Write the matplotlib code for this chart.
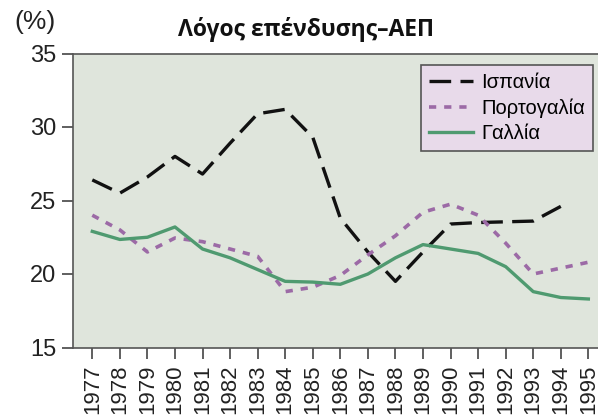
import matplotlib
matplotlib.use('Agg')
import matplotlib.pyplot as plt

plt.rcParams['font.family'] = ['Liberation Sans', 'DejaVu Sans']

years = list(range(1977, 1996))
spain = [26.4, 25.5, 26.6, 28.0, 26.8, 28.9, 30.9, 31.2, 29.3, 23.8, 21.5,
         19.5, 21.5, 23.4, 23.5, 23.55, 23.6, 24.6, None]
portugal = [24.0, 23.0, 21.5, 22.45, 22.2, 21.7, 21.2, 18.8, 19.1, 19.9, 21.3,
            22.6, 24.2, 24.75, 24.0, 22.1, 20.0, 20.4, 20.8]
france = [22.9, 22.35, 22.5, 23.2, 21.7, 21.1, 20.3, 19.5, 19.45, 19.3, 20.0,
          21.1, 22.0, 21.7, 21.4, 20.5, 18.8, 18.4, 18.3]
labels = ['Ισπανία', 'Πορτογαλία', 'Γαλλία']

W, H = 598, 418
fig = plt.figure(figsize=(W / 100, H / 100), dpi=100)
ax = fig.add_axes([73 / W, (H - 347.5) / H, 1 - 73 / W, 294 / H])
ax.set_facecolor('#dfe5dc')

sp_x = [y for y, v in zip(years, spain) if v is not None]
sp_y = [v for v in spain if v is not None]
ax.plot(sp_x, sp_y, color='#111111', lw=2.4, dashes=(6.5, 2.8), label=labels[0])
ax.plot(years, portugal, color='#9c6aa6', lw=2.6, dashes=(2, 2.2), label=labels[1])
ax.plot(years, france, color='#4f9a70', lw=2.4, label=labels[2])

ax.set_xlim(1976.3, 1995.35)
ax.set_ylim(15, 35)
ax.set_yticks([15, 20, 25, 30, 35])
ax.set_xticks(years)
ax.set_xticklabels([str(y) for y in years], rotation=90, va='top')
ax.tick_params(axis='both', color='#444444', length=8, width=1.2,
               labelcolor='#222222')
ax.tick_params(axis='y', labelsize=17, pad=4)
ax.tick_params(axis='x', labelsize=16, pad=4)
for s in ['left', 'bottom', 'top']:
    ax.spines[s].set_color('#555555')
    ax.spines[s].set_linewidth(1.2)
ax.spines['right'].set_visible(False)

leg = ax.legend(loc='upper right', bbox_to_anchor=(593 / W, 1 - 65 / H),
                bbox_transform=fig.transFigure, fontsize=14.5,
                frameon=True, fancybox=False, handlelength=2.2, handletextpad=0.4,
                borderpad=0.4, labelspacing=0.3, borderaxespad=0)
leg.get_frame().set_facecolor('#e8daea')
leg.get_frame().set_edgecolor('#555555')
leg.get_frame().set_linewidth(1.2)
leg.get_frame().set_alpha(1)

fig.text(178 / W, 1 - 30 / H, 'Λόγος επένδυσης–ΑΕΠ', ha='left', va='center',
         fontsize=16.5, fontweight='bold', color='#111111',
         family=['Open Sans', 'DejaVu Sans'])
fig.text(14 / W, 1 - 22 / H, '(%)', ha='left', va='center', fontsize=19,
         color='#222222')

fig.savefig('out.png', dpi=100)
